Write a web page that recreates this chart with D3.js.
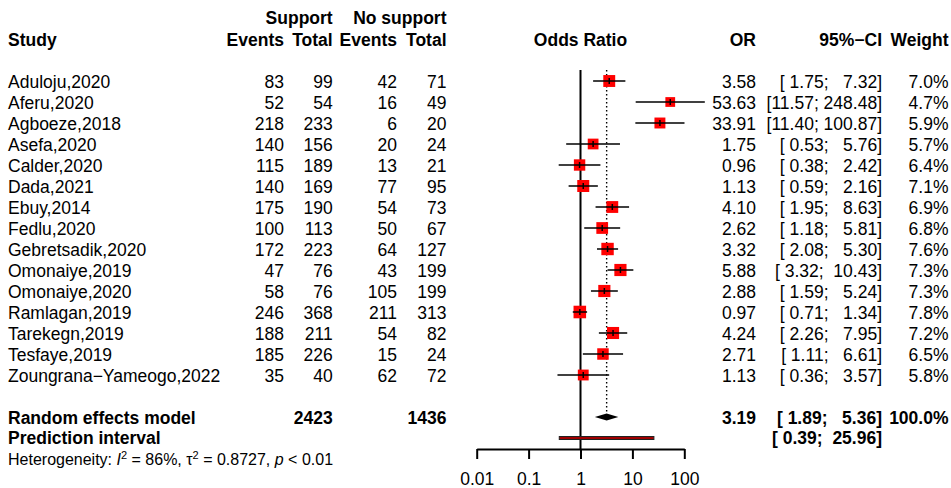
<!DOCTYPE html>
<html>
<head>
<meta charset="utf-8">
<script src="https://cdn.jsdelivr.net/npm/d3@7"></script>
<style>
  body { margin: 0; background: #fff; }
  svg text { font-family: "Liberation Sans", Arial, Helvetica, sans-serif; fill: #000; white-space: pre; }
</style>
</head>
<body>
<div id="chart"></div>
<script>
// Data
var studies = ["Aduloju,2020", "Aferu,2020", "Agboeze,2018", "Asefa,2020", "Calder,2020",
  "Dada,2021", "Ebuy,2014", "Fedlu,2020", "Gebretsadik,2020", "Omonaiye,2019",
  "Omonaiye,2020", "Ramlagan,2019", "Tarekegn,2019", "Tesfaye,2019", "Zoungrana\u2212Yameogo,2022"];
var supportEvents   = [83, 52, 218, 140, 115, 140, 175, 100, 172, 47, 58, 246, 188, 185, 35];
var supportTotal    = [99, 54, 233, 156, 189, 169, 190, 113, 223, 76, 76, 368, 211, 226, 40];
var noSupportEvents = [42, 16, 6, 20, 13, 77, 54, 50, 64, 43, 105, 211, 54, 15, 62];
var noSupportTotal  = [71, 49, 20, 24, 21, 95, 73, 67, 127, 199, 199, 313, 82, 24, 72];
var oddsRatio = [3.58, 53.63, 33.91, 1.75, 0.96, 1.13, 4.10, 2.62, 3.32, 5.88, 2.88, 0.97, 4.24, 2.71, 1.13];
var ciLower   = [1.75, 11.57, 11.40, 0.53, 0.38, 0.59, 1.95, 1.18, 2.08, 3.32, 1.59, 0.71, 2.26, 1.11, 0.36];
var ciUpper   = [7.32, 248.48, 100.87, 5.76, 2.42, 2.16, 8.63, 5.81, 5.30, 10.43, 5.24, 1.34, 7.95, 6.61, 3.57];
var weights   = [7.0, 4.7, 5.9, 5.7, 6.4, 7.1, 6.9, 6.8, 7.6, 7.3, 7.3, 7.8, 7.2, 6.5, 5.8];

var pooled = [3.19, 1.89, 5.36];        // OR, lower, upper (random effects)
var predInterval = [0.39, 25.96];
var pooledTotals = [2423, 1436];
var axisTicks = [0.01, 0.1, 1, 10, 100];
var axisLabels = ["0.01", "0.1", "1", "10", "100"];

var width = 951, height = 488;
var fs = 17.5;

var svg = d3.select("#chart").append("svg")
    .attr("width", width)
    .attr("height", height);

var x = d3.scaleLog().domain([0.01, 100]).range([476.7, 684.3]);
var y = d3.scaleLinear().domain([0, 17]).range([81, 438]);
var base = 6.6; // text baseline offset from row centre

// column right edges
var col = { ev1: 284, tot1: 332.7, ev2: 397, tot2: 446.5, or: 756, ci: 882, w: 948.5 };

function txt(xp, yp, s, anchor, bold, size) {
  return svg.append("text")
    .attr("x", xp).attr("y", yp)
    .attr("text-anchor", anchor || "end")
    .style("font-size", (size || fs) + "px")
    .style("font-weight", bold ? "bold" : "normal")
    .text(s);
}

// padding like R format()
function pad(s, n) { while (s.length < n) s = " " + s; return s; }
function ciText(lo, hi) {
  return "[" + pad(lo.toFixed(2), 5) + "; " + pad(hi.toFixed(2), 6) + "]";
}

// Header
txt(col.tot1, 23.5, "Support", "end", true);
txt(col.tot2, 23.5, "No support", "end", true);
txt(8, 46, "Study", "start", true);
txt(col.ev1, 46, "Events", "end", true);
txt(col.tot1, 46, "Total", "end", true);
txt(col.ev2, 46, "Events", "end", true);
txt(col.tot2, 46, "Total", "end", true);
txt(x(1), 46, "Odds Ratio", "middle", true);
txt(col.or, 46, "OR", "end", true);
txt(col.ci, 46, "95%\u2212CI", "end", true);
txt(col.w, 46, "Weight", "end", true);

// reference line at OR = 1
svg.append("line")
  .attr("x1", x(1)).attr("x2", x(1))
  .attr("y1", 70).attr("y2", 449.5)
  .attr("stroke", "#000").attr("stroke-width", 2);

// dotted line at pooled estimate
svg.append("line")
  .attr("x1", x(pooled[0])).attr("x2", x(pooled[0]))
  .attr("y1", 70).attr("y2", y(16) - 3.5)
  .attr("stroke", "#000").attr("stroke-width", 1.4)
  .attr("stroke-dasharray", "1.4,2.6");

// study rows
studies.forEach(function(s, i) {
  var yy = y(i);
  txt(8, yy + base, s, "start");
  txt(col.ev1, yy + base, supportEvents[i]);
  txt(col.tot1, yy + base, supportTotal[i]);
  txt(col.ev2, yy + base, noSupportEvents[i]);
  txt(col.tot2, yy + base, noSupportTotal[i]);
  txt(col.or, yy + base, oddsRatio[i].toFixed(2));
  txt(col.ci, yy + base, ciText(ciLower[i], ciUpper[i]));
  txt(col.w, yy + base, weights[i].toFixed(1) + "%");

  var side = 4.5 * Math.sqrt(weights[i]);
  svg.append("rect")
    .attr("x", x(oddsRatio[i]) - side / 2)
    .attr("y", yy - side / 2)
    .attr("width", side).attr("height", side)
    .attr("fill", "#ff0000");
  svg.append("line")
    .attr("x1", x(ciLower[i])).attr("x2", x(ciUpper[i]))
    .attr("y1", yy).attr("y2", yy)
    .attr("stroke", "#000").attr("stroke-width", 1.5);
  svg.append("line")
    .attr("x1", x(oddsRatio[i])).attr("x2", x(oddsRatio[i]))
    .attr("y1", yy - 3).attr("y2", yy + 3)
    .attr("stroke", "#000").attr("stroke-width", 1.5);
});

// random effects model
var yr = y(16);
txt(8, yr + base, "Random effects model", "start", true);
txt(col.tot1, yr + base, pooledTotals[0], "end", true);
txt(col.tot2, yr + base, pooledTotals[1], "end", true);
txt(col.or, yr + base, pooled[0].toFixed(2), "end", true);
txt(col.ci, yr + base, ciText(pooled[1], pooled[2]), "end", true);
txt(col.w, yr + base, "100.0%", "end", true);

svg.append("path")
  .attr("d", "M" + x(pooled[1]) + "," + yr +
             "L" + x(pooled[0]) + "," + (yr - 3.5) +
             "L" + x(pooled[2]) + "," + yr +
             "L" + x(pooled[0]) + "," + (yr + 3.5) + "Z")
  .attr("fill", "#000");

// prediction interval
var yp = y(17);
txt(8, yp + base - 1, "Prediction interval", "start", true);
txt(col.ci, yp + base - 1, ciText(predInterval[0], predInterval[1]), "end", true);
svg.append("rect")
  .attr("x", x(predInterval[0]))
  .attr("y", yp - 1.5)
  .attr("width", x(predInterval[1]) - x(predInterval[0]))
  .attr("height", 3)
  .attr("fill", "#a00000")
  .attr("stroke", "#222").attr("stroke-width", 1);

// heterogeneity
var het = svg.append("text")
  .attr("x", 8).attr("y", 465)
  .style("font-size", "16px");
het.append("tspan").text("Heterogeneity: ");
het.append("tspan").style("font-style", "italic").text("I");
het.append("tspan").attr("dy", -6).style("font-size", "11px").text("2");
het.append("tspan").attr("dy", 6).text(" = 86%, \u03c4");
het.append("tspan").attr("dy", -6).style("font-size", "11px").text("2");
het.append("tspan").attr("dy", 6).text(" = 0.8727, ");
het.append("tspan").style("font-style", "italic").text("p");
het.append("tspan").text(" < 0.01");

// x axis
var axis = d3.axisBottom(x)
  .tickValues(axisTicks)
  .tickFormat(function(d, i) { return axisLabels[i]; })
  .tickSize(10)
  .tickSizeOuter(0)
  .tickPadding(14);

var ax = svg.append("g")
  .attr("transform", "translate(0,449)")
  .call(axis);
ax.select(".domain").attr("stroke", "#000").attr("stroke-width", 2);
ax.selectAll(".tick line").attr("stroke", "#000").attr("stroke-width", 2);
ax.selectAll(".tick text")
  .style("font-size", fs + "px")
  .style("font-family", "'Liberation Sans', Arial, sans-serif")
  .attr("fill", "#000");
</script>
</body>
</html>
